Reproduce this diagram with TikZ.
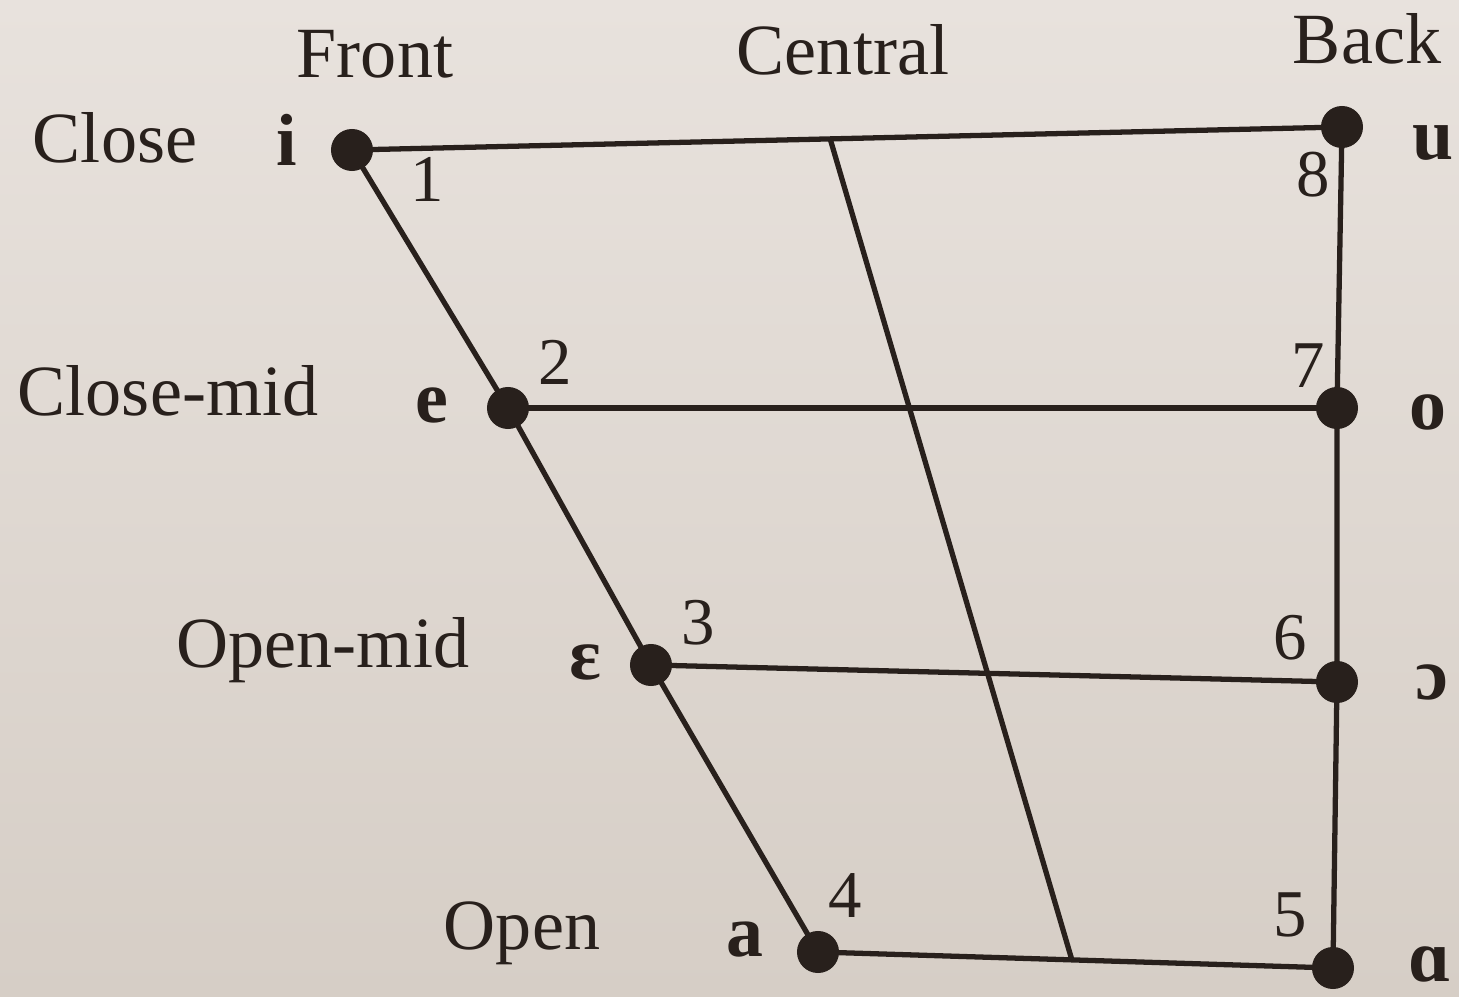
\documentclass[tikz,border=0pt]{standalone}
\usepackage{fontspec}
\setmainfont{Liberation Serif}
\usetikzlibrary{calc}
\definecolor{ink}{RGB}{40,32,28}
\definecolor{papertop}{RGB}{232,226,221}
\definecolor{paperbot}{RGB}{214,206,198}
\tikzset{
  dot/.style={circle,fill=ink,inner sep=0pt,minimum size=0.42cm},
  edge/.style={draw=ink,line width=1.5pt},
  lab/.style={text=ink,inner sep=0pt,anchor=base,font=\fontsize{20.5}{25}\selectfont},
  vow/.style={text=ink,inner sep=0pt,anchor=base,font=\fontsize{21}{25}\selectfont\bfseries},
  num/.style={text=ink,inner sep=0pt,anchor=base,font=\fontsize{19}{23}\selectfont},
}
\begin{document}
\begin{tikzpicture}[x=0.01cm,y=-0.01cm]
\shade[top color=papertop,bottom color=paperbot] (0,0) rectangle (1459,997);
\useasboundingbox (0,0) rectangle (1459,997);
% dots
\node[dot] (i) at (352,150) {};
\node[dot] (u) at (1342,127) {};
\node[dot] (e) at (508,408) {};
\node[dot] (o) at (1337,408) {};
\node[dot] (eps) at (651,665) {};
\node[dot] (oo) at (1337,682) {};
\node[dot] (a) at (818,952) {};
\node[dot] (aa) at (1333,968) {};
\coordinate (c1) at ($(i.center)!0.483!(u.center)$);
\coordinate (c2) at ($(a.center)!0.493!(aa.center)$);
% lines
\draw[edge] (i.center) -- (u.center);
\draw[edge] (e.center) -- (o.center);
\draw[edge] (eps.center) -- (oo.center);
\draw[edge] (a.center) -- (aa.center);
\draw[edge] (i.center) -- (e.center) -- (eps.center) -- (a.center);
\draw[edge] (u.center) -- (o.center) -- (oo.center) -- (aa.center);
\draw[edge] (c1) -- (c2);
% column labels
\node[lab] (front) at (375,78) {Front};
\node[lab] (central) at (843,75) {Central};
\node[lab] (back) at (1367,64) {Back};
% row labels
\node[lab] (close) at (115,163) {Close};
\node[lab] (closemid) at (168,416) {Close-mid};
\node[lab] (openmid) at (323,668) {Open-mid};
\node[lab] (open) at (522,950) {Open};
% vowels
\node[vow] (ti) at (287,166) {i};
\node[vow] (te) at (432,423) {e};
\node[vow] (teps) at (585,680) {ɛ};
\node[vow] (ta) at (745,957) {a};
\node[vow] (tu) at (1433,160) {u};
\node[vow] (to) at (1428,430) {o};
\node[vow] (too) at (1432,700) {ɔ};
\node[vow] (taa) at (1430,982) {ɑ};
% numbers
\node[num] (n1) at (427,202) {1};
\node[num] (n2) at (555,385) {2};
\node[num] (n3) at (698,645) {3};
\node[num] (n4) at (845,918) {4};
\node[num] (n8) at (1313,197) {8};
\node[num] (n7) at (1308,388) {7};
\node[num] (n6) at (1290,660) {6};
\node[num] (n5) at (1290,937) {5};
\end{tikzpicture}
\end{document}
